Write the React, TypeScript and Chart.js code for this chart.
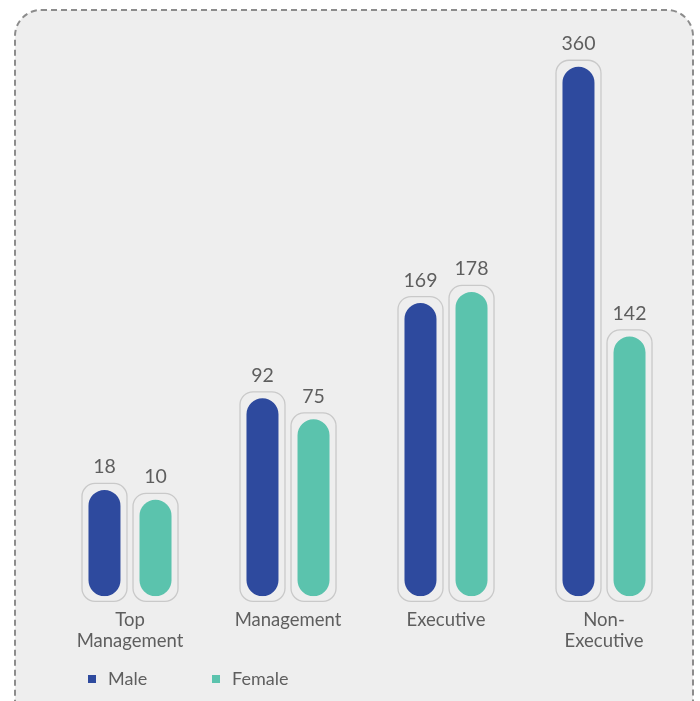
import React, { useEffect, useRef } from 'react';
import { Chart, registerables } from 'chart.js';

Chart.register(...registerables);

const categories: (string | string[])[] = [['Top', 'Management'], 'Management', 'Executive', ['Non-', 'Executive']];
const seriesNames = ['Male', 'Female'];
const maleValues = [18, 92, 169, 360];
const femaleValues = [10, 75, 178, 142];
const seriesColors = ['#2e4a9e', '#5bc3ad'];

const FONT = 'Lato, "Open Sans", sans-serif';
const TEXT_COLOR = '#5e5e5e';
const VALUE_BASE = -68;
const VALUE_MAX = 380;

const framePlugin = {
  id: 'frame',
  beforeDraw(chart: any) {
    const ctx = chart.ctx;
    ctx.save();
    ctx.beginPath();
    ctx.roundRect(15, 10, 678, 740, 26);
    ctx.fillStyle = '#eeeeee';
    ctx.fill();
    ctx.setLineDash([6, 4]);
    ctx.lineWidth = 2;
    ctx.strokeStyle = '#8c8c8c';
    ctx.stroke();
    ctx.restore();
  },
};

const capsulePlugin = {
  id: 'capsules',
  afterDatasetsDraw(chart: any) {
    const ctx = chart.ctx;
    ctx.save();
    chart.data.datasets.forEach((ds: any, di: number) => {
      const meta = chart.getDatasetMeta(di);
      meta.data.forEach((el: any, i: number) => {
        const p = el.getProps(['x', 'y', 'base', 'width'], true);
        const left = p.x - p.width / 2 - 6.5;
        const top = p.y - 6.5;
        const w = p.width + 13;
        const h = p.base + 5 - top;
        ctx.beginPath();
        ctx.roundRect(left, top, w, h, 13);
        ctx.lineWidth = 1.3;
        ctx.strokeStyle = '#c9c9c9';
        ctx.setLineDash([]);
        ctx.stroke();
        ctx.fillStyle = TEXT_COLOR;
        ctx.font = `19.5px ${FONT}`;
        ctx.textAlign = 'center';
        ctx.textBaseline = 'alphabetic';
        ctx.fillText(String(ds.data[i]), p.x, top - 10);
      });
    });
    ctx.restore();
  },
};

const legendPlugin = {
  id: 'customLegend',
  afterDraw(chart: any) {
    const ctx = chart.ctx;
    const xs = [chart.chartArea.left + 37, chart.chartArea.left + 161];
    const y = 679;
    ctx.save();
    chart.data.datasets.forEach((ds: any, i: number) => {
      ctx.fillStyle = ds.backgroundColor;
      ctx.fillRect(xs[i], y - 4, 8, 8);
      ctx.fillStyle = TEXT_COLOR;
      ctx.font = `18px ${FONT}`;
      ctx.textAlign = 'left';
      ctx.textBaseline = 'middle';
      ctx.fillText(ds.label, xs[i] + 20, y);
    });
    ctx.restore();
  },
};

export default function App() {
  const ref = useRef<HTMLCanvasElement>(null);
  useEffect(() => {
    if (!ref.current) return;
    const chart = new Chart(ref.current, {
      type: 'bar',
      data: {
        labels: categories,
        datasets: [
          { label: seriesNames[0], data: maleValues, backgroundColor: seriesColors[0] },
          { label: seriesNames[1], data: femaleValues, backgroundColor: seriesColors[1] },
        ],
      },
      options: {
        responsive: false,
        animation: false,
        devicePixelRatio: 1,
        base: VALUE_BASE,
        categoryPercentage: 0.646,
        barPercentage: 0.627,
        borderRadius: 100,
        borderSkipped: false,
        layout: { padding: { left: 51, right: 17, top: 42, bottom: 36 } },
        plugins: { legend: { display: false }, tooltip: { enabled: false } },
        scales: {
          x: {
            grid: { display: false, drawTicks: false },
            border: { display: false },
            ticks: {
              color: TEXT_COLOR,
              font: { family: FONT, size: 18.5, lineHeight: 1.1 },
              padding: 14,
              maxRotation: 0,
              autoSkip: false,
            },
          },
          y: { display: false, min: VALUE_BASE, max: VALUE_MAX },
        },
      } as any,
      plugins: [framePlugin, capsulePlugin, legendPlugin],
    });
    return () => chart.destroy();
  }, []);
  return (
    <div style={{ position: 'absolute', left: 0, top: 0, width: 700, height: 701, background: '#ffffff' }}>
      <canvas ref={ref} width={700} height={701} style={{ display: 'block' }} />
    </div>
  );
}
